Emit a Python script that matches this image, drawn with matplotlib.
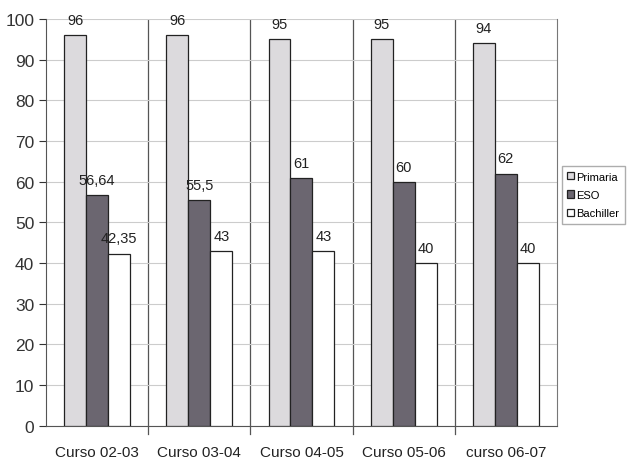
import matplotlib
matplotlib.use("Agg")
import matplotlib.pyplot as plt
import numpy as np

categories = ["Curso 02-03", "Curso 03-04", "Curso 04-05", "Curso 05-06", "curso 06-07"]
primaria = [96, 96, 95, 95, 94]
eso = [56.64, 55.5, 61, 60, 62]
bachiller = [42.35, 43, 43, 40, 40]
primaria_labels = ["96", "96", "95", "95", "94"]
eso_labels = ["56,64", "55,5", "61", "60", "62"]
bachiller_labels = ["42,35", "43", "43", "40", "40"]
series_names = ["Primaria", "ESO", "Bachiller"]

plt.rcParams['font.family'] = ['Liberation Sans', 'DejaVu Sans']

fig = plt.figure(figsize=(6.32, 4.64), dpi=100)
ax = fig.add_axes([0.073, 0.080, 0.808, 0.877])

x = np.arange(len(categories))
w = 0.215
colors = ["#dcdadd", "#6b6670", "#ffffff"]
data = [primaria, eso, bachiller]
labels = [primaria_labels, eso_labels, bachiller_labels]
for i, (vals, lab, c, name) in enumerate(zip(data, labels, colors, series_names)):
    pos = x + (i - 1) * w
    ax.bar(pos, vals, width=w, color=c, edgecolor="#222222", linewidth=0.9, label=name, zorder=3)
    for p, v, t in zip(pos, vals, lab):
        ax.text(p, v + 2.0, t, ha="center", va="bottom", fontsize=10.5, color="#222222", zorder=4)

ax.set_xlim(-0.5, len(categories) - 0.5)
ax.set_ylim(0, 100)
ax.set_yticks(range(0, 101, 10))
ax.tick_params(axis='y', labelsize=12.5, length=5, colors="#333333")
ax.set_xticks(x)
ax.set_xticklabels(categories, fontsize=11)
ax.tick_params(axis='x', length=0, pad=14, colors="#222222")
for b in np.arange(0.5, len(categories) - 0.5, 1.0):
    ax.axvline(b, color="#555555", linewidth=0.9, zorder=1)
    ax.plot([b, b], [0, -2], color="#555555", linewidth=0.9, clip_on=False)
ax.yaxis.grid(True, color="#cccccc", linewidth=0.8, zorder=0)
ax.spines['top'].set_visible(False)
ax.spines['right'].set_color("#777777")
ax.spines['left'].set_color("#555555")
ax.spines['bottom'].set_color("#555555")

leg = fig.legend(loc="upper left", bbox_to_anchor=(0.889, 0.64), fontsize=8,
                 frameon=True, fancybox=False, edgecolor="#999999",
                 handlelength=0.6, handleheight=0.6, handletextpad=0.2,
                 borderpad=0.5, labelspacing=0.75, borderaxespad=0)

fig.savefig("out.png", dpi=100)
